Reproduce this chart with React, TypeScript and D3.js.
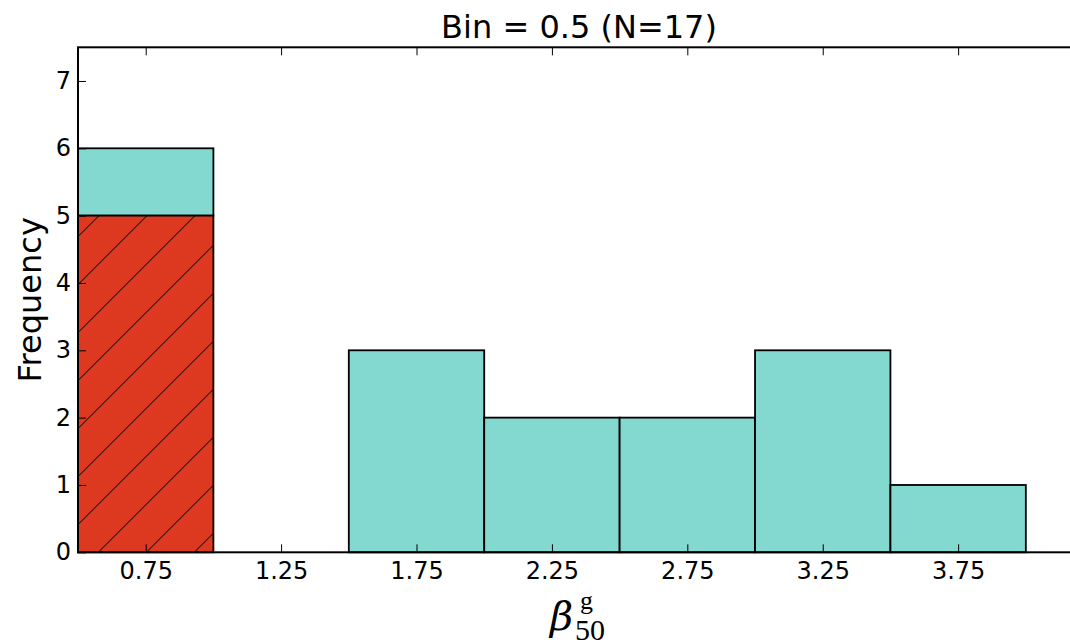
import React, { useEffect, useRef } from "react";
import * as d3 from "d3";

// histogram bins (edges) and counts per series, stacked
const binEdges = [0.5, 1.0, 1.5, 2.0, 2.5, 3.0, 3.5, 4.0];
const binCenters = [0.75, 1.25, 1.75, 2.25, 2.75, 3.25, 3.75];
const redCounts = [5, 0, 0, 0, 0, 0, 0];
const tealCounts = [1, 0, 3, 2, 2, 3, 1];
const yTicks = [0, 1, 2, 3, 4, 5, 6, 7];
const titleText = "Bin = 0.5 (N=17)";

function App() {
  const ref = useRef<SVGSVGElement>(null);

  useEffect(() => {
    drawChart();
  }, []);

  const drawChart = () => {
    const height = 644;
    const margin = { top: 47.3, left: 78, bottom: 91.7 };
    const svg = d3.select(ref.current);
    svg.selectAll("*").remove();

    const x = d3.scaleLinear().domain([0.5, 4.2]).range([margin.left, 1080]);
    const y = d3
      .scaleLinear()
      .domain([0, 7.5])
      .range([height - margin.bottom, margin.top]);

    const font = "'DejaVu Sans', sans-serif";

    // hatch for the red series
    const defs = svg.append("defs");
    const pat = defs
      .append("pattern")
      .attr("id", "hatch")
      .attr("patternUnits", "userSpaceOnUse")
      .attr("width", 48)
      .attr("height", 48)
      .attr("x", 26.6)
      .attr("y", 0);
    pat.append("rect").attr("width", 48).attr("height", 48).attr("fill", "#dc3920");
    pat
      .append("path")
      .attr("d", "M-4,52 L52,-4 M-4,4 L4,-4 M44,52 L52,44")
      .attr("stroke", "#000")
      .attr("stroke-width", 1);

    const bins = binCenters.map((c, i) => ({
      x0: binEdges[i],
      x1: binEdges[i + 1],
      red: redCounts[i],
      teal: tealCounts[i],
    }));

    // teal stacked on red
    svg
      .append("g")
      .selectAll("rect")
      .data(bins.filter((d) => d.teal > 0))
      .enter()
      .append("rect")
      .attr("x", (d) => x(d.x0))
      .attr("width", (d) => x(d.x1) - x(d.x0))
      .attr("y", (d) => y(d.red + d.teal))
      .attr("height", (d) => y(d.red) - y(d.red + d.teal))
      .attr("fill", "#83d8d0")
      .attr("stroke", "#000")
      .attr("stroke-width", 1.8);

    svg
      .append("g")
      .selectAll("rect")
      .data(bins.filter((d) => d.red > 0))
      .enter()
      .append("rect")
      .attr("x", (d) => x(d.x0))
      .attr("width", (d) => x(d.x1) - x(d.x0))
      .attr("y", (d) => y(d.red))
      .attr("height", (d) => y(0) - y(d.red))
      .attr("fill", "url(#hatch)")
      .attr("stroke", "#000")
      .attr("stroke-width", 1.8);

    // axes (ticks inward)
    const xAxis = svg
      .append("g")
      .attr("transform", `translate(0,${y(0)})`)
      .call(
        d3
          .axisBottom(x)
          .tickValues(binCenters)
          .tickFormat(d3.format(".2f"))
          .tickSize(-8)
          .tickPadding(9.5)
      );
    const topAxis = svg
      .append("g")
      .attr("transform", `translate(0,${y(7.5)})`)
      .call(d3.axisTop(x).tickValues(binCenters).tickFormat(() => "").tickSize(-8));
    const yAxis = svg
      .append("g")
      .attr("transform", `translate(${x(0.5)},0)`)
      .call(d3.axisLeft(y).tickValues(yTicks).tickSize(-8).tickPadding(7));

    [xAxis, topAxis, yAxis].forEach((g) => {
      g.select(".domain").remove();
      g.selectAll(".tick line").attr("stroke", "#000").attr("stroke-width", 1);
      g.selectAll(".tick text")
        .attr("fill", "#000")
        .style("font-family", font)
        .style("font-size", "24px");
    });

    // spines
    svg
      .append("rect")
      .attr("x", x(0.5))
      .attr("y", y(7.5))
      .attr("width", x(4.2) - x(0.5))
      .attr("height", y(0) - y(7.5))
      .attr("fill", "none")
      .attr("stroke", "#000")
      .attr("stroke-width", 2);

    // title
    svg
      .append("text")
      .attr("x", (x(0.5) + x(4.2)) / 2)
      .attr("y", 38)
      .attr("text-anchor", "middle")
      .style("font-family", font)
      .style("font-size", "32px")
      .text(titleText);

    // y label
    svg
      .append("text")
      .attr("transform", `translate(41,${(y(0) + y(7.5)) / 2}) rotate(-90)`)
      .attr("text-anchor", "middle")
      .style("font-family", font)
      .style("font-size", "32px")
      .text("Frequency");

    // x label: beta_50^g
    const serif = "'Liberation Serif', 'DejaVu Serif', serif";
    svg
      .append("text")
      .attr("x", 550)
      .attr("y", 630)
      .style("font-family", "'DejaVu Serif', serif")
      .style("font-style", "italic")
      .style("font-size", "40px")
      .text("β");
    svg
      .append("text")
      .attr("x", 575)
      .attr("y", 640)
      .style("font-family", serif)
      .style("font-size", "30px")
      .text("50");
    svg
      .append("text")
      .attr("x", 580)
      .attr("y", 609)
      .style("font-family", serif)
      .style("font-size", "26px")
      .text("g");
  };

  return (
    <svg
      ref={ref}
      width={1070}
      height={644}
      style={{ position: "absolute", left: 0, top: 0, background: "#fff" }}
    />
  );
}

export default App;
